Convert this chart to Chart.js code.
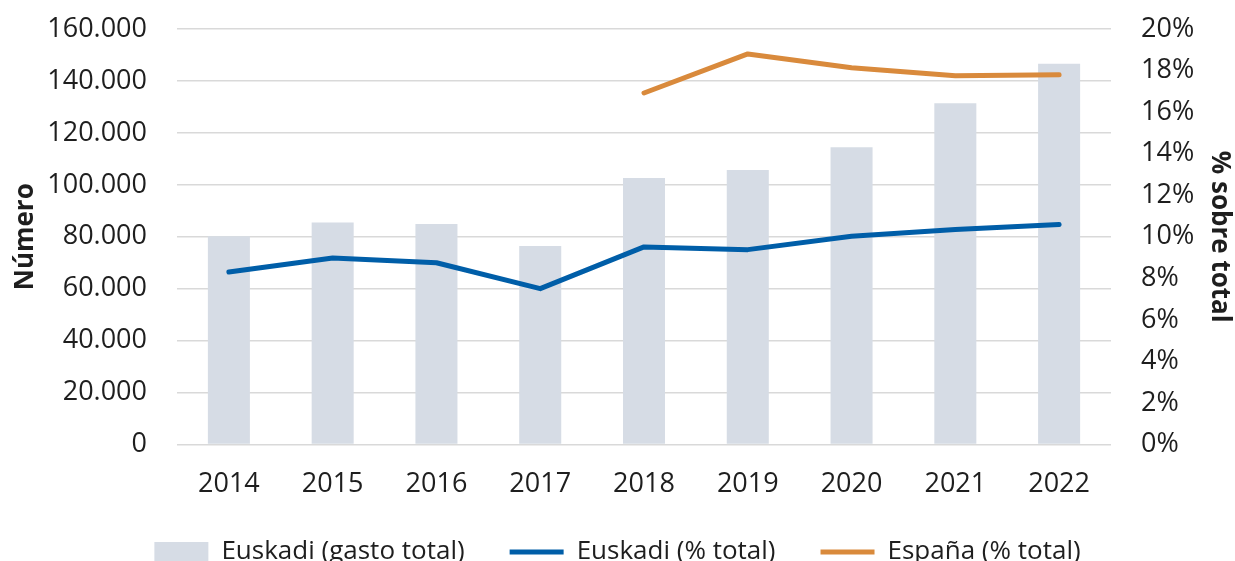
<!DOCTYPE html>
<html>
<head>
<meta charset="utf-8">
<script src="https://cdn.jsdelivr.net/npm/chart.js@4/dist/chart.umd.min.js"></script>
<style>
    html, body { margin: 0; padding: 0; background: #ffffff; }
    #wrap { width: 1235px; height: 561px; }
</style>
</head>
<body>
<div id="wrap"><canvas id="gastoChart" width="1235" height="561"></canvas></div>
<script>
// ===================================
// DATA
// ===================================
const years = ['2014', '2015', '2016', '2017', '2018', '2019', '2020', '2021', '2022'];
const euskadiGasto = [80200, 85500, 84900, 76400, 102600, 105700, 114500, 131400, 146600];
const euskadiPct = [8.30, 8.98, 8.75, 7.50, 9.51, 9.38, 10.02, 10.35, 10.59];
const espanaPct = [null, null, null, null, 16.92, 18.80, 18.13, 17.75, 17.80];

const leftTicks = { min: 0, max: 160000, step: 20000 };
const rightTicks = { min: 0, max: 20, step: 2 };

const COLORS = {
    BAR: '#D6DCE5',
    EUSKADI: '#005EA8',
    ESPANA: '#D98A3C',
    GRID: '#D9D9D9',
    TEXT: '#1E1E1E'
};

const FONT = "'Open Sans', 'Noto Sans', sans-serif";

/**
 * 160000 -> "160.000"
 */
function formatMiles(v) {
    return String(v).replace(/\B(?=(\d{3})+(?!\d))/g, '.');
}

/**
 * Fix the y axis width and drop the vertical padding that
 * Chart.js adds for the tick labels (it adds ticks.padding too)
 */
function fitY(width) {
    return scale => {
        scale.width = width;
        scale.paddingTop = 0;
        scale.paddingBottom = 0;
    };
}

const ctx = document.getElementById('gastoChart');

new Chart(ctx, {
    type: 'bar',
    data: {
        labels: years,
        datasets: [
            {
                type: 'bar',
                label: 'Euskadi (gasto total)',
                data: euskadiGasto,
                backgroundColor: COLORS.BAR,
                borderWidth: 0,
                barPercentage: 0.405,
                categoryPercentage: 1,
                yAxisID: 'y',
                pointStyle: 'rect',
                order: 2
            },
            {
                type: 'line',
                label: 'Euskadi (% total)',
                data: euskadiPct,
                borderColor: COLORS.EUSKADI,
                backgroundColor: COLORS.EUSKADI,
                borderWidth: 5,
                borderCapStyle: 'round',
                borderJoinStyle: 'round',
                pointRadius: 0,
                pointStyle: 'line',
                tension: 0,
                yAxisID: 'y1',
                order: 1
            },
            {
                type: 'line',
                label: 'España (% total)',
                data: espanaPct,
                borderColor: COLORS.ESPANA,
                backgroundColor: COLORS.ESPANA,
                borderWidth: 5,
                borderCapStyle: 'round',
                borderJoinStyle: 'round',
                pointRadius: 0,
                pointStyle: 'line',
                tension: 0,
                spanGaps: false,
                yAxisID: 'y1',
                order: 1
            }
        ]
    },
    options: {
        responsive: false,
        animation: false,
        layout: {
            padding: { top: 29, right: 0, bottom: -14, left: 0 }
        },
        plugins: {
            tooltip: { enabled: false },
            legend: {
                position: 'bottom',
                labels: {
                    usePointStyle: true,
                    pointStyleWidth: 54,
                    boxHeight: 20,
                    padding: 45,
                    color: COLORS.TEXT,
                    font: { family: FONT, size: 26 },
                    sort: (a, b) => a.datasetIndex - b.datasetIndex
                }
            }
        },
        scales: {
            x: {
                grid: { display: false, drawTicks: false },
                border: { display: false },
                ticks: {
                    color: COLORS.TEXT,
                    padding: 24,
                    font: { family: FONT, size: 27 },
                    maxRotation: 0
                },
                afterFit(scale) { scale.height = 49.5; }
            },
            y: {
                position: 'left',
                min: leftTicks.min,
                max: leftTicks.max,
                ticks: {
                    stepSize: leftTicks.step,
                    padding: 30,
                    color: COLORS.TEXT,
                    font: { family: FONT, size: 27 },
                    callback: v => formatMiles(v)
                },
                grid: { color: COLORS.GRID, lineWidth: 1.5, drawTicks: false },
                border: { display: false },
                title: {
                    display: true,
                    text: 'Número',
                    color: COLORS.TEXT,
                    font: { family: FONT, size: 26, weight: 'bold' },
                    padding: { top: 10, bottom: 0 }
                },
                afterFit: fitY(177)
            },
            y1: {
                position: 'right',
                min: rightTicks.min,
                max: rightTicks.max,
                ticks: {
                    stepSize: rightTicks.step,
                    padding: 30,
                    color: COLORS.TEXT,
                    font: { family: FONT, size: 27 },
                    callback: v => v + '%'
                },
                grid: { display: false, drawTicks: false },
                border: { display: false },
                title: {
                    display: true,
                    text: '% sobre total',
                    color: COLORS.TEXT,
                    font: { family: FONT, size: 26, weight: 'bold' },
                    padding: { top: 0, bottom: 4 }
                },
                afterFit: fitY(124)
            }
        }
    }
});
</script>
</body>
</html>
